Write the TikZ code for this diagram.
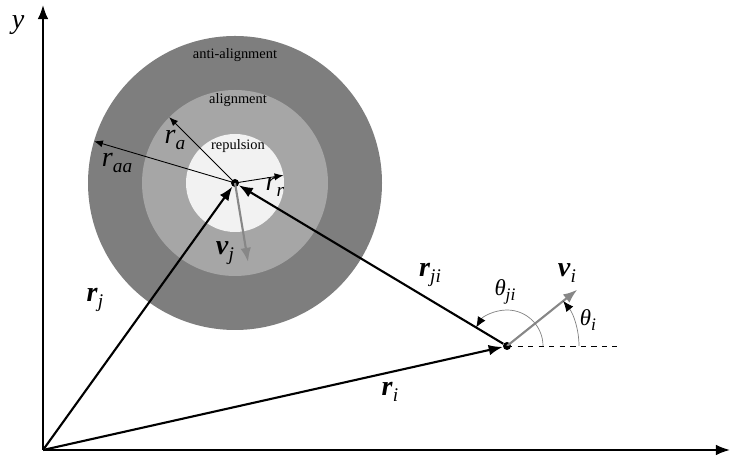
\documentclass[tikz,border=0pt]{standalone}
\usepackage{fontspec}
\setmainfont{Liberation Serif}
\usetikzlibrary{arrows.meta, positioning}
\definecolor{ringout}{RGB}{126,126,126}
\definecolor{ringmid}{RGB}{166,166,166}
\definecolor{ringin}{RGB}{242,242,242}
\definecolor{velgray}{RGB}{135,135,135}
% vector labels (bold) and radius labels (plain)
\newcommand{\vlab}[2]{{\fontsize{16}{16}\selectfont\textbf{\textit{#1}}\raisebox{-0.45ex}{\fontsize{11}{11}\selectfont\textit{#2}}}}
\newcommand{\rlab}[2]{{\fontsize{16}{16}\selectfont\textit{#1}\raisebox{-0.45ex}{\fontsize{11}{11}\selectfont\textit{#2}}}}
\newcommand{\alab}[1]{{\fontsize{13}{13}\selectfont\textit{θ}\raisebox{-0.45ex}{\fontsize{10}{10}\selectfont\textit{#1}}}}

\begin{document}
\begin{tikzpicture}[
  zone/.style={font=\fontsize{8.2}{10}\selectfont, inner sep=0pt},
  dot/.style={circle, fill=black, inner sep=0pt, minimum size=0.16cm},
  vec/.style={-{Latex[length=8pt,width=6pt]}, line width=1.2pt},
  vel/.style={-{Latex[length=8pt,width=6pt]}, line width=1.2pt, color=velgray},
  rad/.style={-{Latex[length=5pt,width=4pt]}, line width=0.5pt},
  axis/.style={-{Latex[length=8pt,width=6pt]}, line width=1pt},
  ang/.style={-{Latex[length=6pt,width=5pt,color=black]}, line width=0.4pt, color=gray}
]
\useasboundingbox (-0.86,-0.16) rectangle (13.78,9.0);

% axes
\coordinate (o) at (0,0);
\coordinate (xend) at (13.74,0);
\coordinate (yend) at (0,8.9);
\draw[axis] (o) -- (xend);
\draw[axis] (o) -- (yend);
\node (ylab) at (-0.5,8.5) {\fontsize{16}{16}\selectfont\textit{y}};

% zones round j
\coordinate (jc) at (3.84,5.34);
\fill[ringout] (jc) circle (2.94);
\fill[ringmid] (jc) circle (1.86);
\fill[ringin] (jc) circle (0.98);
\node[zone] (anti) at (3.84,7.9) {anti-alignment};
\node[zone] (align) at (3.9,7.0) {alignment};
\node[zone] (rep) at (3.9,6.08) {repulsion};

% radii
\path (jc) ++(163.5:2.94) coordinate (raa);
\path (jc) ++(135:1.86) coordinate (ra);
\path (jc) ++(9:0.98) coordinate (rr);
\draw[rad] (jc) -- (raa);
\draw[rad] (jc) -- (ra);
\draw[rad] (jc) -- (rr);
\node (raalab) at (1.48,5.74) {\rlab{r}{aa}};
\node (ralab) at (2.64,6.2) {\rlab{r}{a}};
\node (rrlab) at (4.64,5.26) {\rlab{r}{r}};

% agents
\node[dot] (j) at (jc) {};
\node[dot] (i) at (9.28,2.08) {};

% velocities
\path (j.center) ++(-80.6:1.6) coordinate (vj);
\path (i.center) ++(38.7:1.8) coordinate (vi);
\draw[vel] (j.center) -- (vj);
\draw[vel] (i.center) -- (vi);
\node (vjlab) at (3.64,3.94) {\vlab{v}{j}};
\node (vilab) at (10.48,3.54) {\vlab{v}{i}};

% position vectors
\draw[vec] (o) -- (j);
\draw[vec] (o) -- (i);
\draw[vec] (i) -- (j);
\node (rjlab) at (1.04,3.0) {\vlab{r}{j}};
\node (rilab) at (6.94,1.16) {\vlab{r}{i}};
\node (rjilab) at (7.74,3.5) {\vlab{r}{ji}};

% angles
\coordinate (ihor) at (11.48,2.08);
\draw[dashed, line width=0.5pt] (i.center) -- (ihor);
\draw[ang] (i.center) ++(0:0.72) arc[start angle=0, end angle=149, radius=0.72];
\draw[ang] (i.center) ++(0:1.44) arc[start angle=0, end angle=38.7, radius=1.44];
\node (thjilab) at (9.24,3.16) {\alab{ji}};
\node (thilab) at (10.9,2.6) {\alab{i}};
\end{tikzpicture}
\end{document}
